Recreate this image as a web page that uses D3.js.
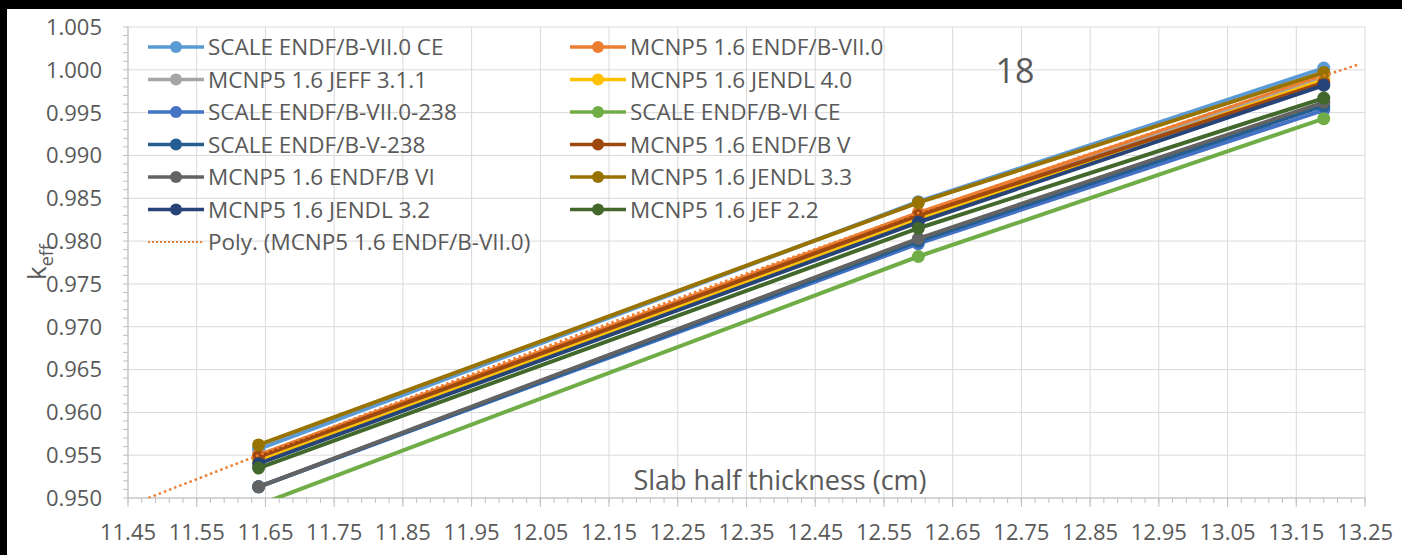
<!DOCTYPE html>
<html>
<head>
<meta charset="utf-8">
<script src="https://cdn.jsdelivr.net/npm/d3@7"></script>
<style>
  body { margin: 0; background: #000; }
  svg { display: block; }
  text { font-family: 'Open Sans', 'Noto Sans', sans-serif; fill: #595959; }
</style>
</head>
<body>
<script>
// slab half thickness (cm) of the three calculated cases
const thickness = [11.64, 12.60, 13.19]

// k-eff, one array per library
const scaleB7CE = [0.9557, 0.9846, 1.0002]
const mcnpB7 = [0.9550, 0.9833, 0.9993]
const mcnpJeff311 = [0.9545, 0.9828, 0.9990]
const mcnpJendl40 = [0.9543, 0.9825, 0.9988]
const scaleB7238 = [0.9513, 0.9797, 0.9953]
const scaleB6CE = [0.9492, 0.9782, 0.9943]
const scaleB5238 = [0.9513, 0.9800, 0.9958]
const mcnpB5 = [0.9548, 0.9830, 0.9985]
const mcnpB6 = [0.9513, 0.9803, 0.9962]
const mcnpJendl33 = [0.9562, 0.9845, 0.9997]
const mcnpJendl32 = [0.9540, 0.9822, 0.9982]
const mcnpJef22 = [0.9535, 0.9815, 0.9967]

const seriesNames = [
  'SCALE ENDF/B-VII.0 CE',
  'MCNP5 1.6 ENDF/B-VII.0',
  'MCNP5 1.6 JEFF 3.1.1',
  'MCNP5 1.6 JENDL 4.0',
  'SCALE ENDF/B-VII.0-238',
  'SCALE ENDF/B-VI CE',
  'SCALE ENDF/B-V-238',
  'MCNP5 1.6 ENDF/B V',
  'MCNP5 1.6 ENDF/B VI',
  'MCNP5 1.6 JENDL 3.3',
  'MCNP5 1.6 JENDL 3.2',
  'MCNP5 1.6 JEF 2.2'
]
const seriesValues = [scaleB7CE, mcnpB7, mcnpJeff311, mcnpJendl40, scaleB7238, scaleB6CE,
  scaleB5238, mcnpB5, mcnpB6, mcnpJendl33, mcnpJendl32, mcnpJef22]
const trendName = 'Poly. (MCNP5 1.6 ENDF/B-VII.0)'

const xTicks = [11.45, 11.55, 11.65, 11.75, 11.85, 11.95, 12.05, 12.15, 12.25, 12.35,
  12.45, 12.55, 12.65, 12.75, 12.85, 12.95, 13.05, 13.15, 13.25]
const yTicks = [0.950, 0.955, 0.960, 0.965, 0.970, 0.975, 0.980, 0.985, 0.990, 0.995, 1.000, 1.005]

// office palette
const palette = ['#5B9BD5', '#ED7D31', '#A5A5A5', '#FFC000', '#4472C4', '#70AD47',
  '#255E91', '#9E480E', '#636363', '#997300', '#264478', '#43682B']

;(() => {
  const width = 1402,
    height = 555
  const plot = { left: 128, right: 1365, top: 27, bottom: 498 }

  const svg = d3.select('body').append('svg')
    .attr('width', width)
    .attr('height', height)

  // white chart frame over the black screen edge
  svg.append('rect')
    .attr('x', 7).attr('y', 9)
    .attr('width', width - 7).attr('height', height - 9)
    .attr('fill', '#fff')

  const x = d3.scaleLinear().domain([11.45, 13.25]).range([plot.left, plot.right])
  const y = d3.scaleLinear().domain([0.950, 1.005]).range([plot.bottom, plot.top])

  // gridlines
  svg.append('g')
    .selectAll('line')
    .data(yTicks)
    .join('line')
    .attr('x1', plot.left).attr('x2', plot.right)
    .attr('y1', d => y(d)).attr('y2', d => y(d))
    .attr('stroke', '#d9d9d9')
  svg.append('g')
    .selectAll('line')
    .data(xTicks)
    .join('line')
    .attr('x1', d => x(d)).attr('x2', d => x(d))
    .attr('y1', plot.top).attr('y2', plot.bottom)
    .attr('stroke', '#d9d9d9')

  // minor ticks (0.001 on y, 0.02 on x)
  const yMinor = d3.range(0, 56).map(i => 0.950 + i * 0.001)
  const xMinor = d3.range(0, 91).map(i => 11.45 + i * 0.02)
  svg.append('g')
    .selectAll('line')
    .data(yMinor)
    .join('line')
    .attr('x1', plot.left - 5).attr('x2', plot.left)
    .attr('y1', d => y(d)).attr('y2', d => y(d))
    .attr('stroke', '#bfbfbf')
  svg.append('g')
    .selectAll('line')
    .data(xMinor)
    .join('line')
    .attr('x1', d => x(d)).attr('x2', d => x(d))
    .attr('y1', plot.bottom).attr('y2', plot.bottom + 5)
    .attr('stroke', '#bfbfbf')
  svg.append('g')
    .selectAll('line')
    .data(xTicks)
    .join('line')
    .attr('x1', d => x(d)).attr('x2', d => x(d))
    .attr('y1', plot.bottom).attr('y2', plot.bottom + 9)
    .attr('stroke', '#bfbfbf')

  // axis lines
  svg.append('line')
    .attr('x1', plot.left).attr('x2', plot.left)
    .attr('y1', plot.top).attr('y2', plot.bottom)
    .attr('stroke', '#bfbfbf')
  svg.append('line')
    .attr('x1', plot.left).attr('x2', plot.right)
    .attr('y1', plot.bottom).attr('y2', plot.bottom)
    .attr('stroke', '#bfbfbf')

  // tick labels
  svg.append('g')
    .selectAll('text')
    .data(yTicks)
    .join('text')
    .attr('x', 102)
    .attr('y', d => y(d))
    .attr('dy', '0.36em')
    .attr('text-anchor', 'end')
    .style('font-size', '22px')
    .text(d => d3.format('.3f')(d))
  svg.append('g')
    .selectAll('text')
    .data(xTicks)
    .join('text')
    .attr('x', d => x(d))
    .attr('y', 540)
    .attr('text-anchor', 'middle')
    .style('font-size', '22px')
    .text(d => d3.format('.2f')(d))

  // axis titles and the case number
  svg.append('text')
    .attr('x', 780).attr('y', 490)
    .attr('text-anchor', 'middle')
    .style('font-size', '27px')
    .text('Slab half thickness (cm)')
  const yTitle = svg.append('text')
    .attr('transform', 'translate(46,280) rotate(-90)')
    .style('font-size', '26px')
  yTitle.append('tspan').text('k')
  yTitle.append('tspan').attr('dy', 7).style('font-size', '18px').text('eff')
  svg.append('text')
    .attr('x', 1015).attr('y', 83)
    .attr('text-anchor', 'middle')
    .style('font-size', '34px')
    .text('18')

  // clip everything to the plot area, like Excel does
  svg.append('clipPath').attr('id', 'plotClip')
    .append('rect')
    .attr('x', plot.left).attr('y', plot.top)
    .attr('width', plot.right - plot.left).attr('height', plot.bottom - plot.top)

  const marks = svg.append('g').attr('clip-path', 'url(#plotClip)')
  const line = d3.line().x(d => x(d[0])).y(d => y(d[1]))

  seriesValues.forEach((vals, i) => {
    const pts = vals.map((v, j) => [thickness[j], v])
    marks.append('path')
      .attr('d', line(pts))
      .attr('fill', 'none')
      .attr('stroke', palette[i])
      .attr('stroke-width', 4)
    marks.selectAll(null)
      .data(pts.filter(p => p[1] >= 0.950))
      .join('circle')
      .attr('cx', d => x(d[0]))
      .attr('cy', d => y(d[1]))
      .attr('r', 6.5)
      .attr('fill', palette[i])
  })

  // 2nd order trendline through MCNP5 ENDF/B-VII.0 (3 points -> exact quadratic)
  const quad = t => d3.sum(thickness.map((xi, i) => {
    let w = mcnpB7[i]
    thickness.forEach((xj, j) => { if (j !== i) w *= (t - xj) / (xi - xj) })
    return w
  }))
  const trendPts = d3.range(11.45, 13.245, 0.01).map(t => [t, quad(t)])
  marks.append('path')
    .attr('d', line(trendPts))
    .attr('fill', 'none')
    .attr('stroke', palette[1])
    .attr('stroke-width', 2.5)
    .attr('stroke-dasharray', '2.5,3')

  // legend: two columns of series, then the trendline entry
  const legend = svg.append('g')
  const rowY = i => 47 + i * 32.5
  seriesNames.forEach((name, i) => {
    const col = i % 2,
      row = Math.floor(i / 2)
    const lx = col === 0 ? 148 : 570
    const g = legend.append('g').attr('transform', `translate(${lx},${rowY(row)})`)
    g.append('line')
      .attr('x1', 0).attr('x2', 56)
      .attr('stroke', palette[i]).attr('stroke-width', 3.5)
    g.append('circle').attr('cx', 28).attr('r', 6).attr('fill', palette[i])
    g.append('text')
      .attr('x', 60).attr('dy', '0.36em')
      .style('font-size', '22.5px')
      .text(name)
  })
  const tg = legend.append('g').attr('transform', `translate(148,${rowY(6)})`)
  tg.append('line')
    .attr('x1', 0).attr('x2', 56)
    .attr('stroke', palette[1]).attr('stroke-width', 2)
    .attr('stroke-dasharray', '2,2')
  tg.append('text')
    .attr('x', 60).attr('dy', '0.36em')
    .style('font-size', '22.5px')
    .text(trendName)
})()
</script>
</body>
</html>
